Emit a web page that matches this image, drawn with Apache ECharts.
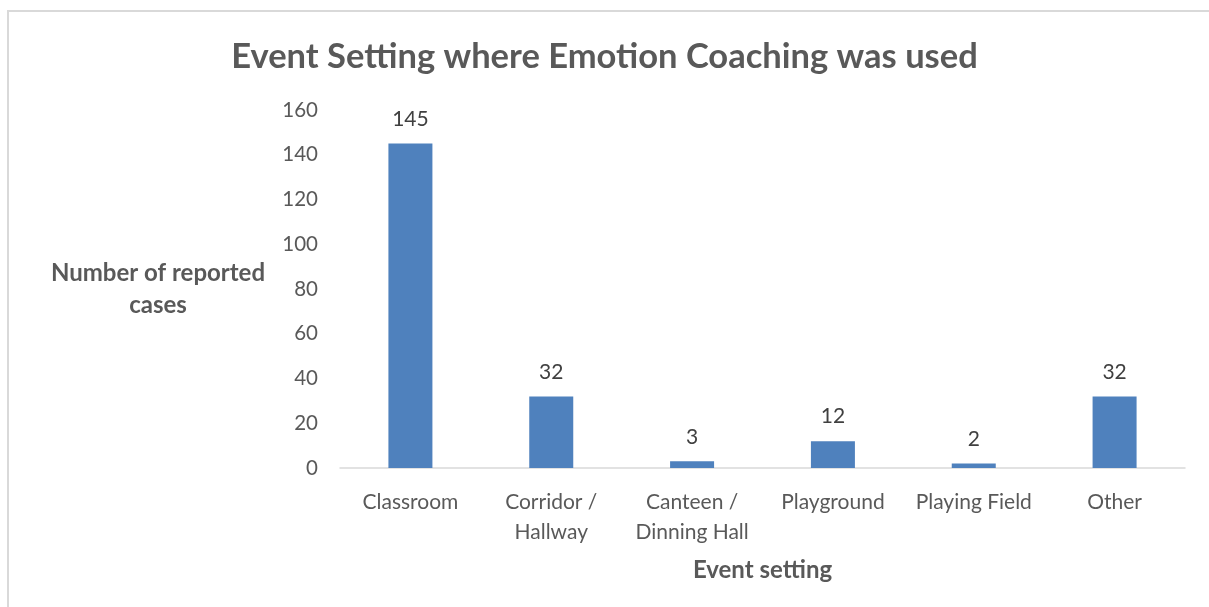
<!DOCTYPE html>
<html>
<head>
<meta charset="utf-8">
<script src="https://cdn.jsdelivr.net/npm/echarts@6/dist/echarts.min.js"></script>
<style>
  * { margin: 0; padding: 0; }
  body { background: #fff; }
  #frame {
    position: absolute; left: 7px; top: 10px; width: 1220px; height: 620px;
    border-top: 2px solid #d9d9d9; border-left: 2px solid #d9d9d9;
  }
  #chart { position: absolute; left: 0; top: 0; width: 1209px; height: 607px; }
</style>
</head>
<body>
<div id="frame"></div>
<div id="chart"></div>
<script>
var categories = ['Classroom', 'Corridor /\nHallway', 'Canteen /\nDinning Hall', 'Playground', 'Playing Field', 'Other'];
var cases = [145, 32, 3, 12, 2, 32];
var yTicks = { min: 0, max: 160, step: 20 };

var font = 'Lato, "Open Sans", sans-serif';
var myChart = echarts.init(document.getElementById('chart'));
myChart.setOption({
  animation: false,
  title: {
    text: 'Event Setting where Emotion Coaching was used',
    left: 'center',
    top: 34,
    textStyle: { fontFamily: font, fontSize: 34.5, fontWeight: 'bold', color: '#595959' }
  },
  grid: { left: 340, right: 24, top: 110, bottom: 139 },
  xAxis: {
    type: 'category',
    data: categories,
    axisLine: { lineStyle: { color: '#d9d9d9', width: 1.5 } },
    axisTick: { show: false },
    axisLabel: {
      interval: 0, margin: 19, color: '#595959',
      fontFamily: font, fontSize: 21, lineHeight: 30
    },
    name: 'Event setting',
    nameLocation: 'middle',
    nameGap: 90,
    nameTextStyle: { fontFamily: font, fontSize: 24, fontWeight: 'bold', color: '#595959' }
  },
  yAxis: {
    type: 'value',
    min: yTicks.min, max: yTicks.max, interval: yTicks.step,
    splitLine: { show: false },
    axisLine: { show: false },
    axisTick: { show: false },
    axisLabel: { margin: 22, color: '#595959', fontFamily: font, fontSize: 20.5 }
  },
  graphic: [{
    type: 'text',
    x: 158, y: 257,
    style: {
      text: 'Number of reported\ncases',
      align: 'center',
      fontFamily: font, fontSize: 24, fontWeight: 'bold',
      lineHeight: 32, fill: '#595959'
    }
  }],
  series: [{
    type: 'bar',
    data: cases,
    barWidth: 44,
    itemStyle: { color: '#4f81bd' },
    label: {
      show: true, position: 'top', distance: 14,
      color: '#404040', fontFamily: font, fontSize: 21
    }
  }]
});
</script>
</body>
</html>
